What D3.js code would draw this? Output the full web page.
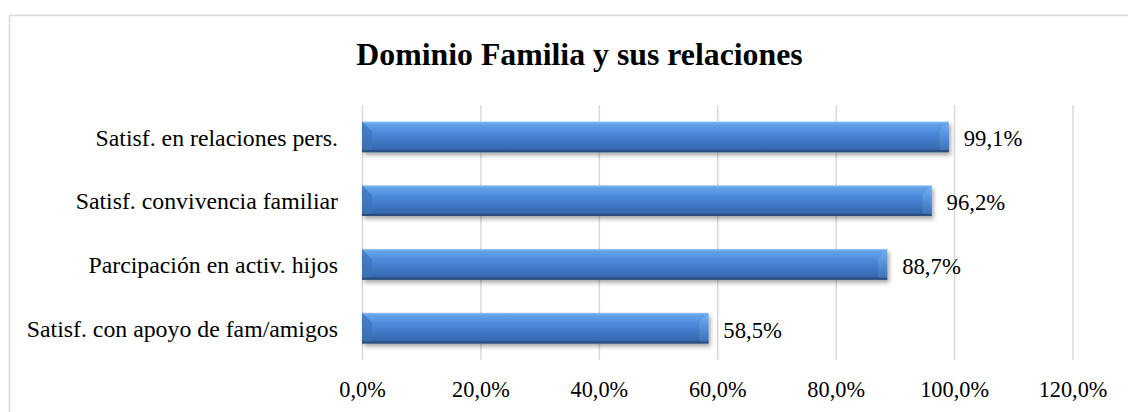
<!DOCTYPE html>
<html>
<head>
<meta charset="utf-8">
<script src="https://cdn.jsdelivr.net/npm/d3@7"></script>
<style>
  html, body { margin: 0; padding: 0; background: #fff; }
  svg { display: block; }
  text { font-family: "Liberation Serif", "Times New Roman", serif; fill: #000; }
</style>
</head>
<body>
<svg id="chart" width="1128" height="412"></svg>
<script>
const title = "Dominio Familia y sus relaciones";
const categories = [
  "Satisf. en relaciones pers.",
  "Satisf. convivencia familiar",
  "Parcipación en activ. hijos",
  "Satisf. con apoyo de fam/amigos"
];
const values = [99.1, 96.2, 88.7, 58.5];
const tickValues = [0, 20, 40, 60, 80, 100, 120];

const locale = d3.formatLocale({ decimal: ",", thousands: ".", grouping: [3], currency: ["", "€"] });
const fmt1 = locale.format(".1f");
const pct = v => fmt1(v) + "%";

const svg = d3.select("#chart");
const SERIF = '"Liberation Serif", "Times New Roman", serif';

// outer chart border (extends past the right/bottom edge)
svg.append("rect")
  .attr("x", 9.5).attr("y", 15.5)
  .attr("width", 1150).attr("height", 430)
  .attr("fill", "#fff").attr("stroke", "#d9d9d9").attr("stroke-width", 1.5);

const plot = { left: 362, right: 1072.5, top: 105, bottom: 360 };

const x = d3.scaleLinear().domain([0, 120]).range([plot.left, plot.right]);
const y = d3.scaleBand().domain(categories).range([plot.top, plot.bottom])
  .paddingInner(0.52).paddingOuter(0.26);

// defs: gradient + shadow
const defs = svg.append("defs");
const g1 = defs.append("linearGradient").attr("id", "barGrad")
  .attr("x1", 0).attr("y1", 0).attr("x2", 0).attr("y2", 1);
[["0%", "#8cc0f5"], ["7%", "#64a3ea"], ["35%", "#4c8bda"], ["65%", "#3f78c6"], ["90%", "#3768ae"], ["100%", "#2b5185"]]
  .forEach(([o, c]) => g1.append("stop").attr("offset", o).attr("stop-color", c));
const g2 = defs.append("linearGradient").attr("id", "leftGrad")
  .attr("x1", 0).attr("y1", 0).attr("x2", 0).attr("y2", 1);
[["0%", "#3f7dc8"], ["100%", "#3a6fb3"]]
  .forEach(([o, c]) => g2.append("stop").attr("offset", o).attr("stop-color", c));
const g3 = defs.append("linearGradient").attr("id", "rightGrad")
  .attr("x1", 0).attr("y1", 0).attr("x2", 0).attr("y2", 1);
[["0%", "#7ab3ef"], ["40%", "#5b97df"], ["100%", "#3d6fb1"]]
  .forEach(([o, c]) => g3.append("stop").attr("offset", o).attr("stop-color", c));
const f = defs.append("filter").attr("id", "shadow")
  .attr("x", "-5%").attr("y", "-30%").attr("width", "115%").attr("height", "180%");
f.append("feDropShadow").attr("dx", 2).attr("dy", 3).attr("stdDeviation", 2.2)
  .attr("flood-color", "#000").attr("flood-opacity", 0.35);

// gridlines
const grid = svg.append("g")
  .attr("transform", `translate(0,${plot.top})`)
  .call(d3.axisBottom(x).tickValues(tickValues).tickSize(plot.bottom - plot.top).tickFormat(""));
grid.select(".domain").remove();
grid.selectAll(".tick line").attr("stroke", "#d9d9d9").attr("stroke-width", 1.5);

// x axis tick labels
const xa = svg.append("g")
  .attr("transform", `translate(0,${plot.bottom})`)
  .call(d3.axisBottom(x).tickValues(tickValues).tickSize(0).tickPadding(0).tickFormat(pct));
xa.attr("font-family", null).attr("font-size", null);
xa.select(".domain").remove();
xa.selectAll(".tick text")
  .attr("y", 36.5).attr("dy", null)
  .style("font-family", SERIF)
  .style("font-size", "22.3px").attr("fill", "#000");

// y axis category labels
const ya = svg.append("g")
  .attr("transform", `translate(${plot.left},0)`)
  .call(d3.axisLeft(y).tickSize(0).tickPadding(24));
ya.attr("font-family", null).attr("font-size", null);
ya.select(".domain").remove();
ya.selectAll(".tick text")
  .attr("dy", "0.37em")
  .style("font-family", SERIF)
  .style("font-size", "23.8px").attr("fill", "#000");

// bars
const bars = svg.append("g").selectAll("g.bar")
  .data(categories.map((c, i) => ({ c, v: values[i] })))
  .join("g").attr("class", "bar");

bars.append("rect")
  .attr("x", x(0)).attr("y", d => y(d.c))
  .attr("width", d => x(d.v) - x(0)).attr("height", y.bandwidth())
  .attr("fill", "url(#barGrad)")
  .attr("filter", "url(#shadow)");

// left bevel facet
bars.append("path")
  .attr("d", d => {
    const x0 = x(0), y0 = y(d.c), h = y.bandwidth(), b = 10;
    return `M${x0},${y0}L${x0 + b},${y0 + b}L${x0 + b},${y0 + h - 2}L${x0},${y0 + h}Z`;
  })
  .attr("fill", "url(#leftGrad)").attr("opacity", 0.85);

// right bevel facet
bars.append("path")
  .attr("d", d => {
    const x1 = x(d.v), y0 = y(d.c), h = y.bandwidth(), b = 9;
    return `M${x1},${y0}L${x1},${y0 + h}L${x1 - b},${y0 + h - 2}L${x1 - b},${y0 + b}Z`;
  })
  .attr("fill", "url(#rightGrad)").attr("opacity", 0.9);

// bottom dark edge
bars.append("rect")
  .attr("x", x(0)).attr("y", d => y(d.c) + y.bandwidth() - 2)
  .attr("width", d => x(d.v) - x(0)).attr("height", 2)
  .attr("fill", "#2a4e80");

// value labels
bars.append("text")
  .attr("x", d => x(d.v) + 15)
  .attr("y", d => y(d.c) + y.bandwidth() / 2)
  .attr("dy", "0.42em")
  .style("font-size", "22.7px")
  .text(d => pct(d.v));

// title
svg.append("text")
  .attr("x", 579.5).attr("y", 65)
  .attr("text-anchor", "middle")
  .style("font-size", "31.8px").style("font-weight", "bold")
  .text(title);
</script>
</body>
</html>
